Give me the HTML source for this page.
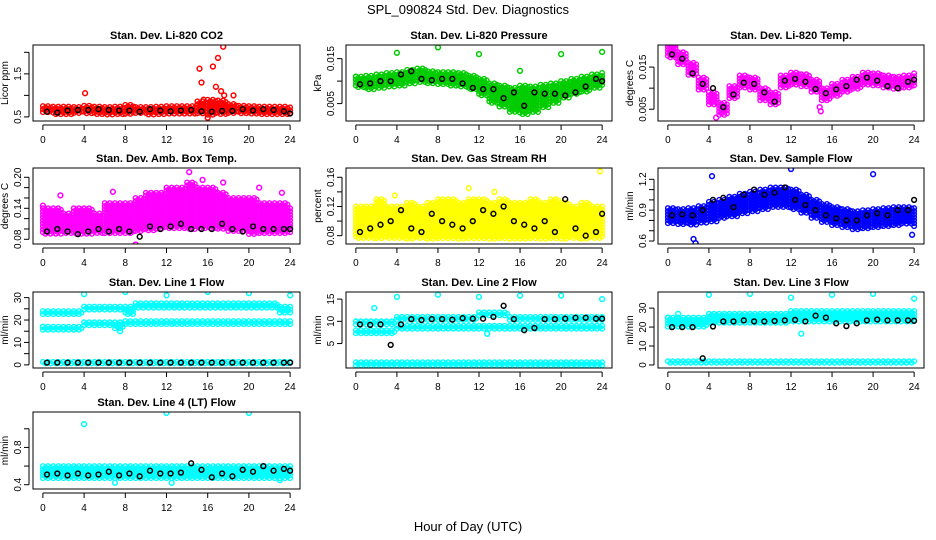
<!DOCTYPE html>
<html><head><meta charset="utf-8">
<style>
html,body{margin:0;padding:0;background:#fff;}
svg{display:block;font-family:"Liberation Sans",Arial,sans-serif;}
</style></head>
<body>
<svg id="chart" width="936" height="540" viewBox="0 0 936 540" xmlns="http://www.w3.org/2000/svg">
<rect width="936" height="540" fill="#fff"/>
<text x="468" y="14" font-size="13" text-anchor="middle">SPL_090824  Std. Dev. Diagnostics</text>
<text x="468" y="531" font-size="13" text-anchor="middle">Hour of Day (UTC)</text>
<g id="panels"></g>
</svg>
<script>
// ---- data (hourly values, index = hour 0..24) ----
const hourTicks = [0,4,8,12,16,20,24];
const co2Lo = [0.58,0.55,0.56,0.57,0.57,0.56,0.55,0.56,0.56,0.56,0.55,0.56,0.57,0.56,0.56,0.57,0.52,0.56,0.56,0.56,0.56,0.56,0.56,0.56,0.57];
const co2Hi = [0.75,0.74,0.74,0.73,0.76,0.74,0.73,0.74,0.78,0.73,0.73,0.74,0.75,0.75,0.75,0.86,0.9,0.88,0.8,0.76,0.75,0.74,0.74,0.74,0.72];
const co2Black = [0.62,0.6,0.65,0.66,0.66,0.68,0.66,0.65,0.65,0.62,0.68,0.65,0.63,0.65,0.66,0.63,0.62,0.64,0.64,0.68,0.65,0.68,0.66,0.63,0.58];
const co2Out = [[4.1,1.05],[15.2,1.62],[15.4,1.3],[15.6,0.9],[16.5,1.67],[16.8,1.2],[17,1.87],[17.5,2.13],[17.3,1.1],[17.6,1.0],[18.5,1.0],[16,0.48]];

const presLo = [.0085,.008,.0082,.0085,.009,.0095,.0098,.0095,.0092,.009,.0085,.008,.0065,.005,.004,.003,.0025,.003,.004,.005,.006,.007,.0075,.0082,.009];
const presHi = [.011,.0112,.0115,.0118,.012,.0125,.0128,.0122,.012,.012,.0118,.0112,.0105,.0095,.009,.0085,.009,.0088,.0092,.0095,.01,.0105,.011,.0115,.0118];
const presBlack = [.0093,.0095,.01,.01,.0115,.0122,.0105,.0102,.0105,.0105,.0095,.0085,.0082,.0082,.0062,.0075,.0045,.0075,.0072,.0072,.0068,.0075,.0088,.0105,.01];
const presOut = [[0,.011],[4,.0163],[8,.0175],[12,.016],[16,.0123],[20,.016],[24,.0165]];

const tempLo = [.017,.0155,.013,.0095,.006,.0035,.0075,.01,.0095,.007,.006,.01,.0107,.0103,.009,.007,.008,.009,.0097,.0107,.0105,.01,.0097,.01,.0105];
const tempHi = [.0205,.0185,.016,.0125,.009,.0065,.0105,.013,.0125,.01,.009,.013,.0137,.0133,.012,.01,.011,.012,.0127,.0137,.0135,.013,.0127,.013,.0135];
const tempBlack = [.018,.017,.0135,.011,.01,.0055,.0085,.0113,.011,.009,.0068,.0118,.0122,.0115,.0098,.0088,.0097,.0105,.012,.0125,.0118,.0105,.01,.0115,.012];
const tempOut = [[4.7,.003],[14.8,.0055],[14.9,.0045]];

const ambLo = [0.09,0.09,0.09,0.09,0.09,0.09,0.09,0.09,0.09,0.095,0.095,0.1,0.1,0.1,0.1,0.1,0.1,0.1,0.095,0.095,0.09,0.09,0.09,0.09,0.09];
const ambHi = [0.14,0.14,0.13,0.14,0.14,0.13,0.15,0.15,0.15,0.16,0.17,0.17,0.18,0.18,0.19,0.18,0.18,0.17,0.16,0.16,0.16,0.15,0.15,0.15,0.14];
const ambBlack = [0.095,0.1,0.095,0.09,0.095,0.1,0.095,0.1,0.095,0.085,0.105,0.1,0.105,0.11,0.1,0.1,0.1,0.11,0.1,0.095,0.105,0.1,0.1,0.1,0.1];
const ambOut = [[0,0.145],[1.7,0.165],[6.8,0.172],[9,0.07],[14.2,0.21],[15.5,0.195],[17.5,0.19],[21,0.18],[23.2,0.17]];

const rhLo = [0.075,0.075,0.075,0.075,0.075,0.075,0.075,0.075,0.075,0.075,0.075,0.075,0.075,0.075,0.075,0.075,0.075,0.075,0.075,0.075,0.075,0.075,0.075,0.075,0.075];
const rhHi = [0.12,0.12,0.13,0.12,0.12,0.125,0.12,0.125,0.13,0.13,0.125,0.13,0.13,0.125,0.13,0.125,0.125,0.13,0.125,0.13,0.125,0.12,0.125,0.12,0.12];
const rhBlack = [0.085,0.09,0.095,0.1,0.115,0.09,0.085,0.11,0.1,0.095,0.09,0.1,0.115,0.11,0.12,0.1,0.095,0.09,0.1,0.085,0.13,0.09,0.08,0.085,0.11];
const rhOut = [[23.8,0.168],[3.8,0.135],[11,0.145],[13.5,0.14]];

const flowLo = [0.76,0.75,0.75,0.77,0.79,0.82,0.84,0.87,0.89,0.91,0.93,0.92,0.91,0.87,0.82,0.78,0.75,0.73,0.71,0.72,0.73,0.74,0.75,0.76,0.74];
const flowHi = [0.92,0.91,0.92,0.94,0.98,1.0,1.03,1.06,1.08,1.1,1.12,1.12,1.1,1.05,1.0,0.96,0.93,0.91,0.89,0.9,0.91,0.92,0.93,0.93,0.92];
const flowBlack = [0.85,0.86,0.85,0.9,1.0,1.02,0.93,1.05,1.1,1.05,1.07,1.12,1.0,0.95,0.9,0.85,0.82,0.8,0.8,0.85,0.87,0.85,0.9,0.9,1.0];
const flowOut = [[2.5,0.62],[2.7,0.58],[4.3,1.23],[12,1.3],[20,1.25],[23.8,0.66]];

const l1LoA = [0.3,0.3,0.3,0.3,0.3,0.3,0.3,0.3,0.3,0.3,0.3,0.3,0.3,0.3,0.3,0.3,0.3,0.3,0.3,0.3,0.3,0.3,0.3,0.3,0.3];
const l1HiA = [1.3,1.3,1.3,1.3,1.3,1.3,1.3,1.3,1.3,1.3,1.3,1.3,1.3,1.3,1.3,1.3,1.3,1.3,1.3,1.3,1.3,1.3,1.3,1.3,1.3];
const l1LoB = [22,22,22,22,24.5,24.5,24.5,24.5,22,25,25,25,25,25,25,25,25,25,25,25,25,25,25,23,23];
const l1HiB = [24,24,24,24,26,26,26,26,26,27.5,27.5,27.5,27.5,27.5,27.5,27.5,27.5,27.5,27.5,27.5,27.5,27.5,27.5,26,26];
const l1LoC = [15,15,15,15,17.5,17.5,17.5,16,18,18,18,18,18,18,18,18,18,18,18,18,18,18,18,18,18];
const l1HiC = [17,17,17,17,19,19,19,19,19.5,19.5,19.5,19.5,19.5,19.5,19.5,19.5,19.5,19.5,19.5,19.5,19.5,19.5,19.5,19.5,19.5];
const l1Black = [1,1,1,1,1,1,1,1,1,1,1,1,1,1,1,1,1,1,1,1,1,1,1,1,1];
const l1Out = [[0,17],[4,31.5],[8,32.5],[12,31],[16,32.5],[20,32],[24,31],[7.5,15]];

const l2LoA = [-0.2,-0.2,-0.2,-0.2,-0.2,-0.2,-0.2,-0.2,-0.2,-0.2,-0.2,-0.2,-0.2,-0.2,-0.2,-0.2,-0.2,-0.2,-0.2,-0.2,-0.2,-0.2,-0.2,-0.2,-0.2];
const l2HiA = [0.8,0.8,0.8,0.8,0.8,0.8,0.8,0.8,0.8,0.8,0.8,0.8,0.8,0.8,0.8,0.8,0.8,0.8,0.8,0.8,0.8,0.8,0.8,0.8,0.8];
const l2LoB = [7.2,7.2,7.2,7.2,8.3,8.3,8.3,8.3,8.3,8.3,8.3,8.3,8.3,8.3,8.3,8.3,8.3,8.3,8.3,8.3,8.3,8.3,8.3,8.3,8.3];
const l2HiB = [8,8,8,8,9,9,9,9,9,9,9,9,9,9,9,9,9,9,9,9,9,9,9,9,9];
const l2LoC = [9,9,9,9,10,10,10,10,10,10,10,10,11,11,11,10,10,10,10,10,10,10,10,10,10];
const l2HiC = [10,10,10,10,11,11,11,11,11,11,11,11,12,12,12,11,11,11,11,11,11,11,11,11,11];
const l2Black = [9.3,9.2,9.3,4.7,9.3,10.5,10.3,10.5,10.5,10.4,10.7,10.6,10.6,11,13.5,10.5,8,8.5,10.5,10.5,10.6,10.8,10.8,10.6,10.6];
const l2Out = [[1.8,13],[4,15.5],[8,16],[12,15.5],[16,15.8],[20,15.8],[24,15],[12.8,7.2]];

const l3LoA = [1,1,1,1,1,1,1,1,1,1,1,1,1,1,1,1,1,1,1,1,1,1,1,1,1];
const l3HiA = [2,2,2,2,2,2,2,2,2,2,2,2,2,2,2,2,2,2,2,2,2,2,2,2,2];
const l3LoB = [19.5,19.5,19.5,19.5,21.5,21.5,21.5,21.5,21.5,21.5,21.5,21.5,22.5,22.5,22.5,22.5,22.5,22.5,22.5,22.5,22.5,22.5,22.5,22.5,22.5];
const l3HiB = [25,25,25,25,27,27,27,27,27,27,27,27,28.5,28.5,28.5,28.5,28.5,28.5,28.5,28.5,28.5,28.5,28.5,28.5,28.5];
const l3Black = [20,20,20,3.5,20.3,23,23,23.5,23,23,23.2,23.5,23.8,23,26,25,22,20.5,22,23.5,24,23.5,23.5,23.5,23.3];
const l3Out = [[0,25],[1,27],[4,37],[8,37.5],[12,35.5],[16,37],[20,37.5],[24,35],[13,16.5]];

const ltLo = [0.47,0.47,0.47,0.47,0.47,0.47,0.47,0.47,0.47,0.47,0.47,0.47,0.47,0.47,0.47,0.47,0.47,0.47,0.47,0.47,0.47,0.47,0.47,0.47,0.47];
const ltHi = [0.6,0.6,0.6,0.6,0.6,0.6,0.6,0.6,0.6,0.6,0.6,0.6,0.6,0.6,0.6,0.6,0.6,0.6,0.6,0.6,0.6,0.6,0.6,0.6,0.6];
const ltBlack = [0.51,0.52,0.5,0.52,0.5,0.51,0.54,0.5,0.52,0.49,0.55,0.52,0.52,0.53,0.63,0.56,0.48,0.52,0.49,0.56,0.54,0.6,0.55,0.57,0.55];
const ltOut = [[4,1.05],[12,1.17],[20,1.17],[7,0.42],[23,0.45],[12.5,0.42]];

const NS = "http://www.w3.org/2000/svg";
const cols = [[33,300],[346,612],[658,924]];
const rows = [[45,121],[168,244],[292,368],[412,489]];
const panels = [
 {name:"co2",title:"Stan. Dev. Li-820 CO2",ylab:"Licor ppm",col:"#ff0000",c:0,r:0,dom:[0.405,2.17],ticks:[0.5,1,1.5,2],labels:[0.5,1.5],fmt:1,bands:[[co2Lo,co2Hi]],black:co2Black,out:co2Out},
 {name:"pressure",title:"Stan. Dev. Li-820 Pressure",ylab:"kPa",col:"#00cc00",c:1,r:0,dom:[0.00113,0.01803],ticks:[0.005,0.01,0.015],labels:[0.005,0.015],fmt:3,bands:[[presLo,presHi]],black:presBlack,out:presOut},
 {name:"temp",title:"Stan. Dev. Li-820 Temp.",ylab:"degrees C",col:"#ff00ff",c:2,r:0,dom:[0.00221,0.02024],ticks:[0.005,0.01,0.015],labels:[0.005,0.015],fmt:3,bands:[[tempLo,tempHi]],black:tempBlack,out:tempOut},
 {name:"amb-box-temp",title:"Stan. Dev. Amb. Box Temp.",ylab:"degrees C",col:"#ff00ff",c:0,r:1,dom:[0.0709,0.218],ticks:[0.08,0.1,0.12,0.14,0.16,0.18,0.2],labels:[0.08,0.14,0.2],fmt:2,bands:[[ambLo,ambHi]],black:ambBlack,out:ambOut},
 {name:"gas-stream-rh",title:"Stan. Dev. Gas Stream RH",ylab:"percent",col:"#ffff00",c:1,r:1,dom:[0.0686,0.1727],ticks:[0.08,0.1,0.12,0.14,0.16],labels:[0.08,0.12,0.16],fmt:2,bands:[[rhLo,rhHi]],black:rhBlack,out:rhOut},
 {name:"sample-flow",title:"Stan. Dev. Sample Flow",ylab:"ml/min",col:"#0000ff",c:2,r:1,dom:[0.571,1.31],ticks:[0.6,0.7,0.8,0.9,1.0,1.1,1.2],labels:[0.6,0.9,1.2],fmt:1,bands:[[flowLo,flowHi]],black:flowBlack,out:flowOut},
 {name:"line1-flow",title:"Stan. Dev. Line 1 Flow",ylab:"ml/min",col:"#00ffff",c:0,r:2,dom:[-1.4,32.5],ticks:[0,5,10,15,20,25,30],labels:[0,10,20,30],fmt:0,bands:[[l1LoA,l1HiA],[l1LoB,l1HiB],[l1LoC,l1HiC]],black:l1Black,out:l1Out},
 {name:"line2-flow",title:"Stan. Dev. Line 2 Flow",ylab:"ml/min",col:"#00ffff",c:1,r:2,dom:[-0.5,16.6],ticks:[5,10,15],labels:[5,10,15],fmt:0,bands:[[l2LoA,l2HiA],[l2LoB,l2HiB],[l2LoC,l2HiC]],black:l2Black,out:l2Out},
 {name:"line3-flow",title:"Stan. Dev. Line 3 Flow",ylab:"ml/min",col:"#00ffff",c:2,r:2,dom:[-1.6,38.5],ticks:[0,10,20,30],labels:[0,10,20,30],fmt:0,bands:[[l3LoA,l3HiA],[l3LoB,l3HiB]],black:l3Black,out:l3Out},
 {name:"line4-lt-flow",title:"Stan. Dev. Line 4 (LT) Flow",ylab:"ml/min",col:"#00ffff",c:0,r:3,dom:[0.354,1.18],ticks:[0.4,0.6,0.8,1.0],labels:[0.4,0.8],fmt:1,bands:[[ltLo,ltHi]],black:ltBlack,out:ltOut}
];
function el(tag, attrs, parent){const e=document.createElementNS(NS,tag);for(const k in attrs)e.setAttribute(k,attrs[k]);parent.appendChild(e);return e;}
const root = document.getElementById('panels');
panels.forEach(p=>{
  const [L,R]=cols[p.c], [T,B]=rows[p.r];
  const xs = h => L + (h+0.96)/25.92*(R-L);
  const ys = v => B - (v-p.dom[0])/(p.dom[1]-p.dom[0])*(B-T);
  const g = el('g',{},root);
  
  
  const t = el('text',{x:(L+R)/2,y:T-6,'font-size':11,'font-weight':'bold','text-anchor':'middle'},g);
  t.textContent=p.title;
  
  
  const clipId='clip-'+p.name;
  const cp=el('clipPath',{id:clipId},g); el('rect',{x:L,y:T,width:R-L,height:B-T},cp);
  const pts = el('g',{'clip-path':'url(#'+clipId+')',fill:'none'},g);
  
  
  // dense colored bands
  p.bands.forEach(([lo,hi])=>{
    for(let h=0;h<=24;h++){
      const steps = h<24?4:1;
      for(let s=0;s<steps;s++){
        const hx = h + s*0.25;
        const x = xs(hx);
        const y1 = ys(hi[h]), y0 = ys(lo[h]);
        const off = (s%2)*1.5;
        for(let y=y1+off; y<=y0+0.01; y+=3){
          const c=el('circle',{cx:x.toFixed(1),cy:y.toFixed(1),r:2.3,stroke:p.col,'stroke-width':1.4},pts);
        }
      }
    }
  });
  p.out.forEach(([h,v])=>{
    const c=el('circle',{cx:xs(h).toFixed(1),cy:ys(v).toFixed(1),r:2.4,stroke:p.col,'stroke-width':1.5},pts);
    
    
  });
  const bg = el('g',{'clip-path':'url(#'+clipId+')',fill:'none'},g);
  
  
  p.black.forEach((v,h)=>{
    const hx = Math.min(24, h+0.4);
    const c=el('circle',{cx:xs(hx).toFixed(1),cy:ys(v).toFixed(1),r:2.4,stroke:'#000','stroke-width':1.5},bg);
    
    
  });
  // box
  const box=el('rect',{x:L,y:T,width:R-L,height:B-T,fill:'none',stroke:'#000','stroke-width':1},g);
  
  
  // x axis
  const xa=el('g',{},g);
  
  
  el('line',{x1:xs(0),x2:xs(24),y1:B+4,y2:B+4,stroke:'#000'},xa);
  hourTicks.forEach(h=>{
    el('line',{x1:xs(h),x2:xs(h),y1:B+4,y2:B+9,stroke:'#000'},xa);
    const tx=el('text',{x:xs(h),y:B+22,'font-size':10,'text-anchor':'middle'},xa);
    tx.textContent=h;
    
    
  });
  // y axis
  const ya=el('g',{},g);
  
  
  const tks=p.ticks;
  el('line',{x1:L-4,x2:L-4,y1:ys(tks[0]),y2:ys(tks[tks.length-1]),stroke:'#000'},ya);
  tks.forEach(v=>{ el('line',{x1:L-9,x2:L-4,y1:ys(v),y2:ys(v),stroke:'#000'},ya); });
  p.labels.forEach(v=>{
    const y=ys(v), x=L-12;
    const tx=el('text',{x:x,y:y,'font-size':10,'text-anchor':'middle',transform:`rotate(-90 ${x} ${y})`},ya);
    tx.textContent=v.toFixed(p.fmt);
    
    
  });
  const yx=L-25, yy=(T+B)/2;
  const yt=el('text',{x:yx,y:yy,'font-size':10,'text-anchor':'middle',transform:`rotate(-90 ${yx} ${yy})`},g);
  yt.textContent=p.ylab;
  
  
});
</script>
</body></html>
